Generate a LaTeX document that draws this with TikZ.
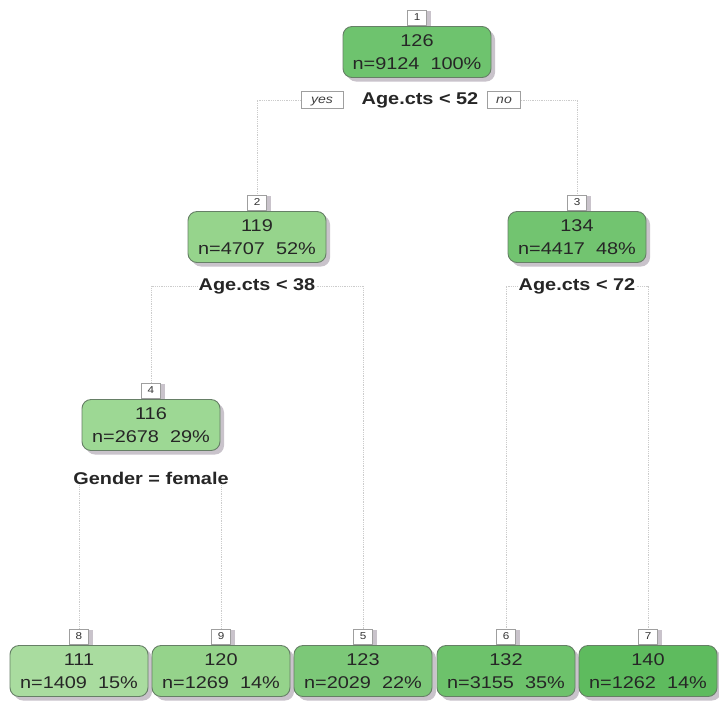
\documentclass[tikz,border=0pt]{standalone}
\usepackage{fontspec}
\setmainfont{Liberation Sans}[FakeStretch=1.17]
\usetikzlibrary{shadows}
\definecolor{nodeborder}{HTML}{667F66}
\definecolor{shadowc}{HTML}{C9C3CB}
\definecolor{cA}{HTML}{6EC36E}
\definecolor{cB}{HTML}{96D48C}
\definecolor{cC}{HTML}{72C470}
\definecolor{cD}{HTML}{9DD894}
\definecolor{cE}{HTML}{A9DC9F}
\definecolor{cF}{HTML}{95D38B}
\definecolor{cG}{HTML}{7CC878}
\definecolor{cH}{HTML}{6DC26B}
\definecolor{cI}{HTML}{5EBB5E}
\begin{document}
\begin{tikzpicture}[x=1pt,y=-1pt,
  tree/.style={draw=nodeborder, line width=0.9pt, rounded corners=9pt,
    minimum width=138pt, minimum height=51pt, align=center,
    font=\fontsize{17}{23}\selectfont, text=black!85, inner sep=2pt,
    drop shadow={shadow xshift=4pt, shadow yshift=-4pt, fill=shadowc, opacity=1}},
  num/.style={draw=gray!75, fill=white, font=\fontsize{10}{10}\selectfont,
    text=black!80, inner sep=1pt, minimum width=19pt, minimum height=15pt,
    anchor=south, yshift=1pt,
    drop shadow={shadow xshift=4pt, shadow yshift=-1pt, fill=shadowc, opacity=1}},
  split/.style={font=\bfseries\fontsize{17}{17}\selectfont, text=black!85, inner sep=1pt},
  yn/.style={draw=gray!75, fill=white, font=\itshape\fontsize{12}{12}\selectfont,
    text=black!75, inner xsep=1.5pt, text height=8pt, text depth=2pt, inner ysep=3.5pt},
  conn/.style={draw=gray!40, line width=0.8pt, densely dotted}
]
\useasboundingbox[fill=white] (0,0) rectangle (719,705);

% tree nodes
\node[tree, fill=cA, minimum width=148pt] (n1) at (417,52) {126\\n=9124~~100\%};
\node[tree, fill=cB] (n2) at (257,237) {119\\n=4707~~52\%};
\node[tree, fill=cC] (n3) at (577,237) {134\\n=4417~~48\%};
\node[tree, fill=cD] (n4) at (151,425) {116\\n=2678~~29\%};
\node[tree, fill=cE] (n8) at (79,671) {111\\n=1409~~15\%};
\node[tree, fill=cF] (n9) at (221,671) {120\\n=1269~~14\%};
\node[tree, fill=cG] (n5) at (363,671) {123\\n=2029~~22\%};
\node[tree, fill=cH] (n6) at (506,671) {132\\n=3155~~35\%};
\node[tree, fill=cI] (n7) at (648,671) {140\\n=1262~~14\%};

% node numbers
\node[num] (l1) at (n1.north) {1};
\node[num] (l2) at (n2.north) {2};
\node[num] (l3) at (n3.north) {3};
\node[num] (l4) at (n4.north) {4};
\node[num] (l8) at (n8.north) {8};
\node[num] (l9) at (n9.north) {9};
\node[num] (l5) at (n5.north) {5};
\node[num] (l6) at (n6.north) {6};
\node[num] (l7) at (n7.north) {7};

% split labels
\node[split] (s1) at (420,100) {Age.cts < 52};
\node[yn, minimum width=42pt] (yes) at (322,100) {yes};
\node[yn, minimum width=33pt] (no) at (504,100) {no};
\node[split] (s2) at (257,286) {Age.cts < 38};
\node[split] (s3) at (577,286) {Age.cts < 72};
\node[split] (s4) at (151,478) {Gender = female};

% connectors
\draw[conn] (yes.west) -| (l2.north);
\draw[conn] (no.east) -| (l3.north);
\draw[conn] (s2.west) -| (l4.north);
\draw[conn] (s2.east) -| (l5.north);
\draw[conn] (s3.west) -| (l6.north);
\draw[conn] (s3.east) -| (l7.north);
\draw[conn] (l8.north |- s4.south) -- (l8.north);
\draw[conn] (l9.north |- s4.south) -- (l9.north);
\end{tikzpicture}
\end{document}
